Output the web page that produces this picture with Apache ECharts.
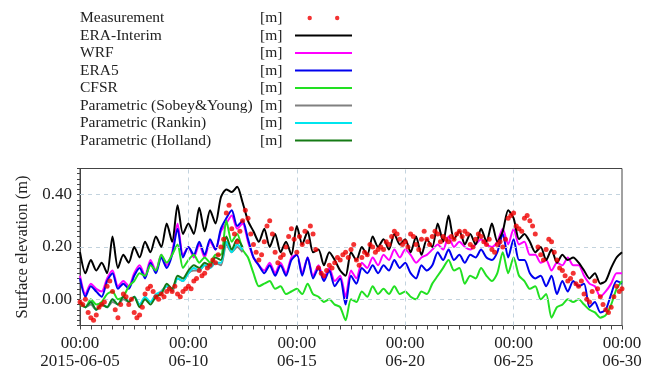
<!DOCTYPE html>
<html><head><meta charset="utf-8">
<script src="https://cdn.jsdelivr.net/npm/echarts@6/dist/echarts.min.js"></script>
<style>html,body{margin:0;padding:0;background:#fff}#c{width:657px;height:372px}</style>
</head><body><div id="c"></div>
<script>
// x values are days since 2015-06-05 00:00
const X_TICK_LABELS = ['00:00\n2015-06-05', '00:00\n06-10', '00:00\n06-15', '00:00\n06-20', '00:00\n06-25', '00:00\n06-30'];
const NAMES = ['Measurement', 'ERA-Interim', 'WRF', 'ERA5', 'CFSR', 'Parametric (Sobey&Young)', 'Parametric (Rankin)', 'Parametric (Holland)'];
const STEP_MODEL = 0.25;   // 6-hourly
const STEP_MEAS = 0.125;   // 3-hourly

const ERA_INTERIM = [
  0.18, 0.10, 0.15, 0.11,  0.14, 0.10, 0.24, 0.12,  0.17, 0.14, 0.20, 0.16,
  0.22, 0.18, 0.24, 0.20,  0.29, 0.22, 0.36, 0.25,  0.29, 0.25, 0.35, 0.26,
  0.34, 0.29, 0.39, 0.42,  0.41, 0.43, 0.37, 0.30,  0.26, 0.22, 0.27, 0.20,
  0.25, 0.18, 0.22, 0.17,  0.28, 0.21, 0.26, 0.18,  0.19, 0.13, 0.18, 0.15,
  0.11, 0.09, 0.18, 0.15,  0.20, 0.17, 0.24, 0.20,  0.23, 0.19, 0.25, 0.21,
  0.23, 0.18, 0.24, 0.17,  0.23, 0.20, 0.29, 0.22,  0.32, 0.23, 0.26, 0.21,
  0.25, 0.21, 0.27, 0.22,  0.29, 0.22, 0.26, 0.34,  0.31, 0.23, 0.25, 0.22,
  0.18, 0.20, 0.15, 0.19,  0.14, 0.17, 0.15, 0.16,  0.14, 0.11, 0.08, 0.10,
  0.06, 0.07, 0.12, 0.16,  0.18
];
const WRF = [
  0.09, 0.02, 0.06, 0.04,  0.03, 0.08, 0.11, 0.05,  0.07, 0.05, 0.10, 0.13,
  0.09, 0.15, 0.11, 0.17,  0.13, 0.18, 0.29, 0.17,  0.20, 0.16, 0.21, 0.16,
  0.22, 0.19, 0.26, 0.29,  0.32, 0.27, 0.29, 0.22,  0.16, 0.13, 0.11, 0.14,
  0.10, 0.14, 0.10, 0.16,  0.17, 0.10, 0.16, 0.09,  0.13, 0.08, 0.12, 0.07,
  0.09, 0.01, 0.11, 0.08,  0.14, 0.12, 0.16, 0.13,  0.17, 0.15, 0.19, 0.16,
  0.19, 0.17, 0.14, 0.16,  0.17, 0.19, 0.21, 0.19,  0.24, 0.20, 0.22, 0.20,
  0.19, 0.21, 0.23, 0.21,  0.20, 0.22, 0.27, 0.21,  0.27, 0.21, 0.22, 0.17,
  0.17, 0.14, 0.15, 0.11,  0.14, 0.13, 0.16, 0.13,  0.13, 0.09, 0.06, 0.05,
  0.01, 0.03, 0.06, 0.10,  0.10
];
const ERA5 = [
  0.08, 0.01, 0.05, 0.03,  0.01, 0.07, 0.10, 0.04,  0.06, 0.04, 0.09, 0.12,
  0.08, 0.14, 0.10, 0.16,  0.12, 0.17, 0.27, 0.16,  0.20, 0.17, 0.22, 0.17,
  0.23, 0.19, 0.27, 0.31,  0.34, 0.28, 0.30, 0.23,  0.16, 0.13, 0.10, 0.13,
  0.09, 0.13, 0.09, 0.15,  0.17, 0.09, 0.16, 0.08,  0.12, 0.07, 0.11, 0.05,
  0.08, -0.02, 0.09, 0.06, 0.12, 0.10, 0.13, 0.10,  0.13, 0.11, 0.15, 0.12,
  0.14, 0.10, 0.08, 0.13,  0.11, 0.13, 0.18, 0.15,  0.19, 0.15, 0.17, 0.14,
  0.17, 0.16, 0.19, 0.16,  0.15, 0.18, 0.25, 0.16,  0.23, 0.15, 0.15, 0.10,
  0.08, 0.09, 0.05, 0.09,  0.02, 0.07, 0.03, 0.07,  0.05, 0.06, -0.03, -0.01,
  -0.05, -0.04, 0.02, 0.07, 0.06
];
const CFSR = [
  -0.02, -0.03, 0.00, -0.02, -0.01, 0.02, 0.03, 0.00,  0.01, 0.05, 0.07, 0.10,
  0.09, 0.13, 0.11, 0.17,  0.14, 0.17, 0.21, 0.12,  0.15, 0.17, 0.14, 0.16,
  0.14, 0.17, 0.17, 0.30,  0.22, 0.25, 0.19, 0.16,  0.10, 0.05, 0.06, 0.07,
  0.04, 0.05, 0.02, 0.03,  0.04, 0.02, 0.06, 0.02,  0.01, -0.01, 0.00, -0.02,
  -0.03, -0.08, 0.00, -0.01, 0.03, 0.01, 0.05, 0.02, 0.04, 0.02, 0.05, 0.02,
  0.03, 0.01, 0.00, 0.03,  0.02, 0.06, 0.09, 0.12,  0.15, 0.11, 0.12, 0.06,
  0.09, 0.08, 0.12, 0.09,  0.07, 0.10, 0.18, 0.10,  0.16, 0.09, 0.07, 0.04,
  0.05, 0.00, 0.02, -0.07, -0.03, -0.02, 0.00, -0.01, 0.00, -0.02, -0.04, -0.05,
  -0.07, -0.06, -0.02, 0.04, 0.07
];
const SOBEY_YOUNG = [
  -0.01, -0.03, -0.02, -0.04, -0.02, -0.03, -0.01, -0.02, 0.00, -0.01, 0.01, -0.02,
  0.00, -0.01, 0.01, 0.03,  0.05, 0.03, 0.08, 0.07,  0.10, 0.11, 0.11, 0.13,
  0.12, 0.14, 0.13, 0.21,  0.18, 0.20, 0.18
];
const RANKIN = [
  -0.01, -0.03, -0.01, -0.04, -0.02, -0.03, 0.00, -0.02, 0.01, -0.01, 0.01, -0.02,
  0.01, -0.01, 0.02, 0.03,  0.05, 0.04, 0.08, 0.07,  0.10, 0.12, 0.11, 0.13,
  0.12, 0.14, 0.14, 0.22,  0.18, 0.21, 0.19
];
const HOLLAND = [
  -0.01, -0.03, -0.01, -0.04, -0.02, -0.03, 0.00, -0.02, 0.01, -0.01, 0.01, -0.03,
  0.00, -0.02, 0.01, 0.02,  0.06, 0.04, 0.09, 0.08,  0.11, 0.13, 0.12, 0.14,
  0.13, 0.16, 0.15, 0.24,  0.19, 0.23, 0.20
];
const MEASUREMENT = [
  -0.01, -0.02, 0.00, -0.05, -0.07, -0.08, -0.06, -0.03,
  -0.02, -0.01, 0.05, 0.07, 0.03, -0.04, -0.07, -0.02,
  0.02, 0.01, -0.02, 0.00, -0.05, -0.07, -0.06, -0.03,
  0.02, 0.04, 0.05, 0.03, 0.01, 0.00, 0.02, 0.01,
  0.03, 0.04, 0.03, 0.05, 0.02, 0.01, 0.03, 0.04,
  0.05, 0.04, 0.07, 0.08, 0.11, 0.09, 0.10, 0.12,
  0.13, 0.15, 0.14, 0.17, 0.20, 0.23, 0.33, 0.36,
  0.27, 0.25, 0.22, 0.26, 0.30, 0.34, 0.31, 0.25,
  0.21, 0.18, 0.15, 0.17, 0.22, 0.28, 0.30, 0.25,
  0.18, 0.14, 0.16, 0.17, 0.20, 0.24, 0.27, 0.23,
  0.18, 0.24, 0.21, 0.26, 0.22, 0.28, 0.25, 0.19,
  0.12, 0.10, 0.09, 0.11, 0.13, 0.12, 0.14, 0.16,
  0.15, 0.17, 0.18, 0.16, 0.19, 0.21, 0.15, 0.13,
  0.16, 0.18, 0.17, 0.21, 0.20, 0.18, 0.19, 0.20,
  0.19, 0.22, 0.21, 0.24, 0.26, 0.25, 0.23, 0.21,
  0.22, 0.20, 0.25, 0.24, 0.21, 0.19, 0.23, 0.26,
  0.23, 0.21, 0.24, 0.26, 0.25, 0.22, 0.24, 0.23,
  0.22, 0.24, 0.23, 0.25, 0.26, 0.24, 0.26, 0.25,
  0.21, 0.20, 0.23, 0.25, 0.24, 0.22, 0.21, 0.23,
  0.19, 0.18, 0.21, 0.22, 0.20, 0.23, 0.31, 0.32,
  0.33, 0.28, 0.27, 0.26, 0.31, 0.32, 0.30, 0.28,
  0.25, 0.20, 0.17, 0.15, 0.19, 0.23, 0.22, 0.18,
  0.15, 0.12, 0.11, 0.09, 0.07, 0.08, 0.10, 0.06,
  0.05, 0.07, 0.02, 0.00, -0.01, 0.03, 0.07, 0.04,
  0.01, -0.02, -0.04, -0.05, -0.03, 0.01, 0.05, 0.03,
  0.04
];

const COLORS = {
  'Measurement': '#f00000', 'ERA-Interim': '#000000', 'WRF': '#ff00ff', 'ERA5': '#0000ee',
  'CFSR': '#22e022', 'Parametric (Sobey&Young)': '#808080', 'Parametric (Rankin)': '#00e5ee',
  'Parametric (Holland)': '#157a15'
};
const FONT = 'Liberation Serif';

function pairs(arr, step) { return arr.map((v, i) => [i * step, v]); }
function lineSeries(name, arr, z) {
  return {
    name: name, type: 'line', data: pairs(arr, STEP_MODEL), showSymbol: false, symbol: 'none',
    smooth: 0.25, z: z, lineStyle: { color: COLORS[name], width: 2 }, itemStyle: { color: COLORS[name] },
    animation: false
  };
}

const twoDots = 'path://M0,0M57,10M12.5,5A2.2,2.2,0,1,1,16.9,5A2.2,2.2,0,1,1,12.5,5ZM40,5A2.2,2.2,0,1,1,44.4,5A2.2,2.2,0,1,1,40,5Z';
const lineIcon = 'path://M0,0M57,10M0,4H57V6H0Z';

const chart = echarts.init(document.getElementById('c'), null, { renderer: 'canvas' });
const richBase = { fontFamily: FONT, fontSize: 15.5, color: '#222', lineHeight: 16, align: 'left' };
chart.setOption({
  animation: false,
  backgroundColor: '#fff',
  grid: { left: 80, right: 35, top: 168.5, bottom: 46.5, show: true, borderColor: '#444', borderWidth: 1, containLabel: false },
  legend: {
    orient: 'vertical', left: 80, top: 10, padding: 0, align: 'right',
    itemWidth: 57, itemHeight: 10, itemGap: 1.5, selectedMode: false,
    data: NAMES.map(n => ({ name: n, icon: n === 'Measurement' ? twoDots : lineIcon })),
    formatter: n => '{a|' + n + '}{b|[m]}',
    textStyle: {
      fontFamily: FONT, fontSize: 15.5, color: '#222', lineHeight: 16,
      rich: {
        a: Object.assign({ width: 180 }, richBase),
        b: Object.assign({ width: 30 }, richBase)
      }
    }
  },
  xAxis: {
    type: 'value', min: 0, max: 25, interval: 0.5,
    axisLine: { show: true, onZero: false, lineStyle: { color: '#444', width: 1 } },
    axisTick: { show: true, inside: false, length: 4, lineStyle: { color: '#444' } },
    splitLine: { show: false },
    axisLabel: {
      margin: 9, fontFamily: FONT, fontSize: 17, color: '#222', lineHeight: 18,
      formatter: v => {
        const k = Math.round(v * 2);
        return (k % 10 === 0) ? X_TICK_LABELS[k / 10] : '';
      }
    }
  },
  yAxis: {
    type: 'value', min: -0.1, max: 0.5, interval: 0.02,
    name: 'Surface elevation (m)', nameLocation: 'middle', nameGap: 45,
    nameTextStyle: { fontFamily: FONT, fontSize: 16.5, color: '#222' },
    axisLine: { show: true, onZero: false, lineStyle: { color: '#444', width: 1 } },
    axisTick: { show: true, inside: false, length: 3, lineStyle: { color: '#444' } },
    splitLine: { show: false },
    axisLabel: {
      margin: 8, fontFamily: FONT, fontSize: 17, color: '#222',
      formatter: v => {
        const r = Math.round(v * 100);
        return (r % 20 === 0) ? (r / 100).toFixed(2) : '';
      }
    }
  },
  series: [
    {
      type: 'line', data: [], z: 0, silent: true,
      markLine: {
        silent: true, symbol: ['none', 'none'], animation: false,
        label: { show: false },
        lineStyle: { type: [4, 4], color: '#c3d3de', width: 1 },
        data: [{ yAxis: 0 }, { yAxis: 0.2 }, { yAxis: 0.4 }, { xAxis: 5 }, { xAxis: 10 }, { xAxis: 15 }, { xAxis: 20 }]
      }
    },
    lineSeries('WRF', WRF, 2),
    lineSeries('ERA5', ERA5, 3),
    lineSeries('CFSR', CFSR, 4),
    lineSeries('Parametric (Sobey&Young)', SOBEY_YOUNG, 5),
    lineSeries('Parametric (Rankin)', RANKIN, 6),
    lineSeries('Parametric (Holland)', HOLLAND, 7),
    lineSeries('ERA-Interim', ERA_INTERIM, 8),
    {
      name: 'Measurement', type: 'scatter', data: pairs(MEASUREMENT, STEP_MEAS),
      symbol: 'circle', symbolSize: 5, z: 9,
      itemStyle: { color: COLORS['Measurement'] }, animation: false
    }
  ]
});
</script>
</body></html>
